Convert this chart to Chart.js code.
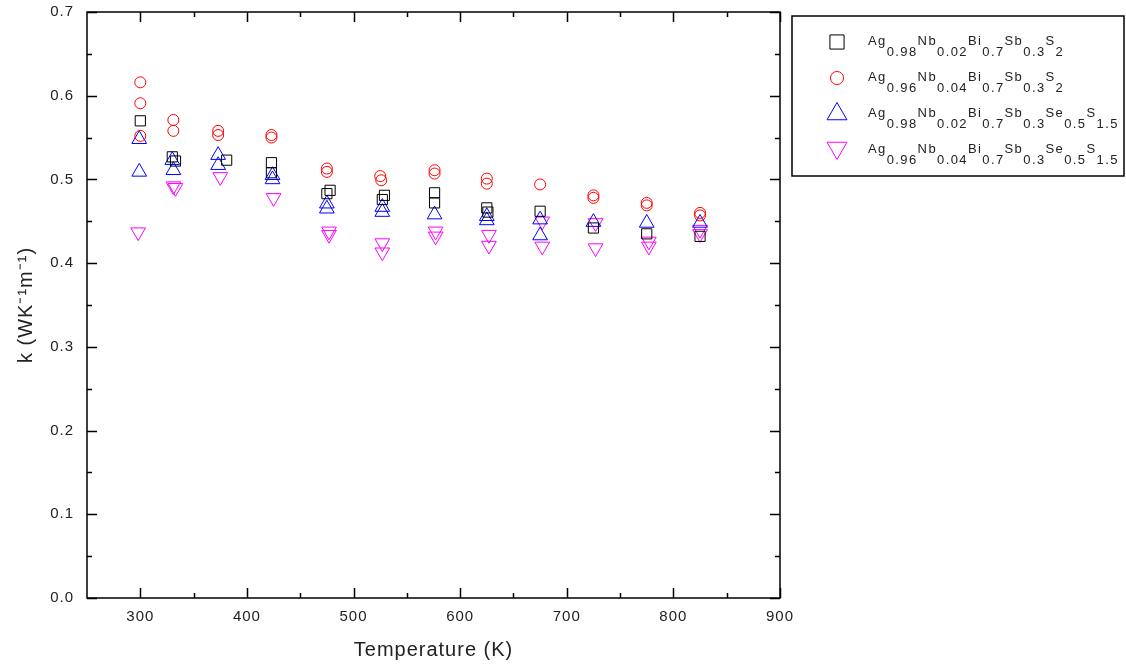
<!DOCTYPE html>
<html>
<head>
<meta charset="utf-8">
<script src="https://cdn.jsdelivr.net/npm/chart.js@4"></script>
<style>
  html, body { margin: 0; padding: 0; background: #ffffff; }
  #wrap { width: 1126px; height: 666px; position: relative; }
</style>
</head>
<body>
<div id="wrap"><canvas id="kChart"></canvas></div>
<script>
// axis ticks
const xTicks = [300, 400, 500, 600, 700, 800, 900];
const xMinor = [350, 450, 550, 650, 750, 850];
const yTicks = [0.0, 0.1, 0.2, 0.3, 0.4, 0.5, 0.6, 0.7];
const yMinor = [0.05, 0.15, 0.25, 0.35, 0.45, 0.55, 0.65];

// Ag0.98Nb0.02Bi0.7Sb0.3S2 (black squares)
const tempA = [300, 330, 333, 381, 423, 423, 475, 478, 527, 529, 576, 576, 625, 626, 675, 725, 775, 825];
const kA    = [0.570, 0.527, 0.522, 0.523, 0.520, 0.508, 0.483, 0.487, 0.476, 0.481, 0.484, 0.472, 0.466, 0.461, 0.462, 0.442, 0.435, 0.432];

// Ag0.96Nb0.04Bi0.7Sb0.3S2 (red circles)
const tempB = [300, 300, 300, 331, 331, 373, 373, 423, 423, 475, 475, 525, 526, 576, 576, 625, 625, 675, 725, 725, 775, 775, 825, 825];
const kB    = [0.616, 0.591, 0.552, 0.571, 0.558, 0.558, 0.553, 0.553, 0.550, 0.513, 0.509, 0.504, 0.499, 0.511, 0.507, 0.501, 0.495, 0.494, 0.481, 0.478, 0.472, 0.469, 0.460, 0.457];

// Ag0.98Nb0.02Bi0.7Sb0.3Se0.5S1.5 (blue triangles)
const tempC = [299, 299, 330, 331, 373, 373, 424, 424, 475, 475, 527, 527, 576, 625, 625, 675, 675, 725, 775, 825];
const kC    = [0.548, 0.509, 0.523, 0.511, 0.529, 0.517, 0.505, 0.500, 0.471, 0.465, 0.467, 0.461, 0.458, 0.456, 0.451, 0.452, 0.433, 0.449, 0.448, 0.448];

// Ag0.96Nb0.04Bi0.7Sb0.3Se0.5S1.5 (magenta down triangles)
const tempD = [298, 331, 333, 375, 425, 477, 477, 527, 527, 577, 577, 627, 627, 677, 677, 727, 727, 777, 777, 825, 825];
const kD    = [0.437, 0.492, 0.490, 0.503, 0.478, 0.438, 0.434, 0.424, 0.413, 0.438, 0.432, 0.434, 0.421, 0.450, 0.420, 0.448, 0.418, 0.426, 0.420, 0.440, 0.435];

// legend labels as [text, isSubscript] pieces
const legendLabels = [
  [['Ag', 0], ['0.98', 1], ['Nb', 0], ['0.02', 1], ['Bi', 0], ['0.7', 1], ['Sb', 0], ['0.3', 1], ['S', 0], ['2', 1]],
  [['Ag', 0], ['0.96', 1], ['Nb', 0], ['0.04', 1], ['Bi', 0], ['0.7', 1], ['Sb', 0], ['0.3', 1], ['S', 0], ['2', 1]],
  [['Ag', 0], ['0.98', 1], ['Nb', 0], ['0.02', 1], ['Bi', 0], ['0.7', 1], ['Sb', 0], ['0.3', 1], ['Se', 0], ['0.5', 1], ['S', 0], ['1.5', 1]],
  [['Ag', 0], ['0.96', 1], ['Nb', 0], ['0.04', 1], ['Bi', 0], ['0.7', 1], ['Sb', 0], ['0.3', 1], ['Se', 0], ['0.5', 1], ['S', 0], ['1.5', 1]]
];

const FONT = '"Liberation Sans", Arial, sans-serif';

function toPoints(xs, ys) {
  return xs.map((x, i) => ({ x: x, y: ys[i] }));
}

// the original plot uses slightly spaced-out lettering
const spacingPlugin = {
  id: 'spacing',
  beforeDraw(chart) { chart.ctx.letterSpacing = '1px'; }
};

// frame with inward ticks on all four sides
const framePlugin = {
  id: 'frame',
  afterDatasetsDraw(chart) {
    const ctx = chart.ctx;
    const a = chart.chartArea;
    const xs = chart.scales.x, ys = chart.scales.y;
    ctx.save();
    ctx.strokeStyle = '#000';
    ctx.lineWidth = 1.5;
    ctx.strokeRect(a.left, a.top, a.right - a.left, a.bottom - a.top);
    ctx.beginPath();
    const tickX = (vals, len) => {
      vals.forEach(v => {
        const px = Math.round(xs.getPixelForValue(v)) + 0.5;
        ctx.moveTo(px, a.bottom); ctx.lineTo(px, a.bottom - len);
        ctx.moveTo(px, a.top); ctx.lineTo(px, a.top + len);
      });
    };
    const tickY = (vals, len) => {
      vals.forEach(v => {
        const py = Math.round(ys.getPixelForValue(v)) + 0.5;
        ctx.moveTo(a.left, py); ctx.lineTo(a.left + len, py);
        ctx.moveTo(a.right, py); ctx.lineTo(a.right - len, py);
      });
    };
    tickX(xTicks, 10); tickX(xMinor, 5);
    tickY(yTicks, 10); tickY(yMinor, 5);
    ctx.stroke();
    ctx.restore();
  }
};

// legend box with subscripted formulas
const legendPlugin = {
  id: 'formulaLegend',
  afterDraw(chart) {
    const ctx = chart.ctx;
    const ds = chart.data.datasets;
    ctx.save();
    ctx.strokeStyle = '#000';
    ctx.lineWidth = 1.5;
    ctx.strokeRect(792, 16, 332, 160);
    const sizes = [10, 6.5, 11.5, 11.5];
    legendLabels.forEach((parts, i) => {
      const cy = 42 + i * 36;
      ctx.strokeStyle = ds[i].borderColor;
      ctx.fillStyle = 'rgba(0,0,0,0)';
      ctx.lineWidth = 1;
      Chart.helpers.drawPoint(ctx, {
        pointStyle: ds[i].pointStyle,
        rotation: ds[i].rotation || 0,
        radius: sizes[i],
        borderWidth: 1
      }, 837, cy + (i === 3 ? -2 : 0));
      ctx.fillStyle = '#222';
      ctx.font = '13px ' + FONT;
      ctx.letterSpacing = '1.4px';
      ctx.textBaseline = 'alphabetic';
      let x = 868;
      parts.forEach(p => {
        const y = p[1] ? cy + 14 : cy + 3;
        ctx.fillText(p[0], x, y);
        x += ctx.measureText(p[0]).width;
      });
    });
    ctx.restore();
  }
};

const ctx = document.getElementById('kChart').getContext('2d');
new Chart(ctx, {
  type: 'scatter',
  data: {
    datasets: [
      {
        label: 'Ag0.98Nb0.02Bi0.7Sb0.3S2',
        data: toPoints(tempA, kA),
        pointStyle: 'rect',
        pointRadius: 7.2,
        borderColor: '#000000',
        backgroundColor: 'rgba(0,0,0,0)',
        borderWidth: 1
      },
      {
        label: 'Ag0.96Nb0.04Bi0.7Sb0.3S2',
        data: toPoints(tempB, kB),
        pointStyle: 'circle',
        pointRadius: 5.5,
        borderColor: '#ff0000',
        backgroundColor: 'rgba(0,0,0,0)',
        borderWidth: 1
      },
      {
        label: 'Ag0.98Nb0.02Bi0.7Sb0.3Se0.5S1.5',
        data: toPoints(tempC, kC),
        pointStyle: 'triangle',
        pointRadius: 8.5,
        borderColor: '#0000ff',
        backgroundColor: 'rgba(0,0,0,0)',
        borderWidth: 1
      },
      {
        label: 'Ag0.96Nb0.04Bi0.7Sb0.3Se0.5S1.5',
        data: toPoints(tempD, kD),
        pointStyle: 'triangle',
        rotation: 180,
        pointRotation: 180,
        pointRadius: 8.5,
        borderColor: '#ff00ff',
        backgroundColor: 'rgba(0,0,0,0)',
        borderWidth: 1
      }
    ]
  },
  options: {
    responsive: true,
    maintainAspectRatio: false,
    animation: false,
    layout: { padding: { top: 12, right: 346, left: 0, bottom: 0 } },
    plugins: {
      legend: { display: false },
      tooltip: { enabled: false }
    },
    scales: {
      x: {
        type: 'linear',
        min: 250,
        max: 900,
        grid: { display: false, drawTicks: false },
        border: { display: false },
        afterFit: s => { s.height = 68; s.paddingLeft = 0; s.paddingRight = 0; },
        afterBuildTicks: s => { s.ticks = xTicks.map(v => ({ value: v })); },
        ticks: {
          autoSkip: false,
          maxRotation: 0,
          padding: 10,
          color: '#222',
          font: { family: FONT, size: 15 },
          callback: v => String(v)
        },
        title: {
          display: true,
          text: 'Temperature (K)',
          color: '#222',
          font: { family: FONT, size: 20 },
          padding: { top: 4, bottom: 4 }
        }
      },
      y: {
        type: 'linear',
        min: 0,
        max: 0.7,
        grid: { display: false, drawTicks: false },
        border: { display: false },
        afterFit: s => { s.width = 87; s.paddingTop = 0; s.paddingBottom = 0; },
        afterBuildTicks: s => { s.ticks = yTicks.map(v => ({ value: v })); },
        ticks: {
          autoSkip: false,
          padding: 13,
          color: '#222',
          font: { family: FONT, size: 15 },
          callback: v => Number(v).toFixed(1)
        },
        title: {
          display: true,
          text: 'k (WK\u207B\u00B9m\u207B\u00B9)',
          color: '#222',
          font: { family: FONT, size: 20 },
          padding: { top: 14, bottom: 0 }
        }
      }
    }
  },
  plugins: [spacingPlugin, framePlugin, legendPlugin]
});
</script>
</body>
</html>
